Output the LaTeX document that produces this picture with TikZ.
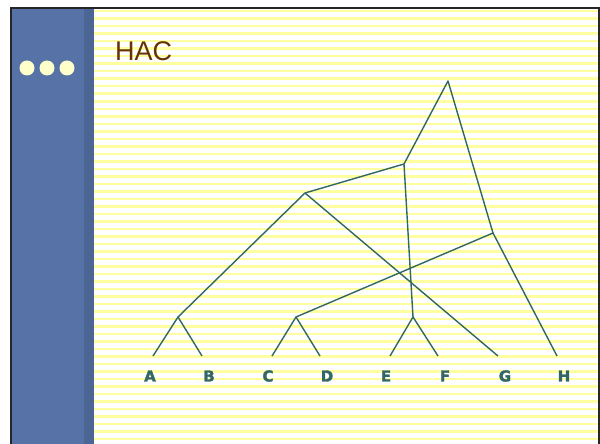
\documentclass[tikz,border=0pt]{standalone}
\usepackage{fontspec}
\setmainfont{Liberation Sans}
\newfontfamily\heavyfont[FakeBold=2]{DejaVu Sans Bold}
\usetikzlibrary{positioning}
\definecolor{SlideBlue}{RGB}{86,114,166}
\definecolor{SlideShade}{RGB}{75,101,149}
\definecolor{StripeYellow}{RGB}{255,255,160}
\definecolor{DotCream}{RGB}{255,255,204}
\definecolor{TitleBrown}{RGB}{102,51,0}
\definecolor{TreeTeal}{RGB}{51,102,102}

\begin{document}
\begin{tikzpicture}[x=1pt,y=-1pt,
    link/.style={TreeTeal,line width=1.4pt,line join=round},
    leaf/.style={TreeTeal,inner sep=0pt,font=\fontsize{15}{15}\selectfont\heavyfont}]
  \useasboundingbox (0,0) rectangle (600,444);
  \fill[white] (0,0) rectangle (600,444);
  % striped slide background
  \foreach \k in {0,...,57}
    \fill[StripeYellow] (94,{10+7.5*\k}) rectangle (598,{12.5+7.5*\k});
  \fill[SlideBlue] (12,9) rectangle (84,444);
  \fill[SlideShade] (84,9) rectangle (94,444);
  \draw[line width=2.5pt,black!85] (11,444) |- (599,8) -- (599,444);
  \foreach \x in {27,47,67}
    \fill[DotCream] (\x,68) circle (7.5);
  \node[TitleBrown,anchor=base west,inner sep=0pt,font=\fontsize{27}{27}\selectfont] (title) at (115,61) {HAC};
  % leaves
  \foreach \n/\lx/\tx in {A/150/153,B/209/202,C/268/272,D/327/320,E/386/390,F/445/438,G/505/498,H/564/557}{
    \coordinate (top\n) at (\tx,356);
    \node[leaf] (\n) at (\lx,376) {\n};
  }
  % merges
  \coordinate (AB) at (178,317);
  \coordinate (CD) at (296,317);
  \coordinate (EF) at (413,317);
  \coordinate (ABG) at (305,193);
  \coordinate (ABGEF) at (404,164);
  \coordinate (CDH) at (493,233);
  \coordinate (root) at (448,81);
  \draw[link] (topA) -- (AB) -- (topB);
  \draw[link] (topC) -- (CD) -- (topD);
  \draw[link] (topE) -- (EF) -- (topF);
  \draw[link] (AB) -- (ABG) -- (topG);
  \draw[link] (ABG) -- (ABGEF) -- (EF);
  \draw[link] (CD) -- (CDH) -- (topH);
  \draw[link] (ABGEF) -- (root) -- (CDH);
\end{tikzpicture}
\end{document}
